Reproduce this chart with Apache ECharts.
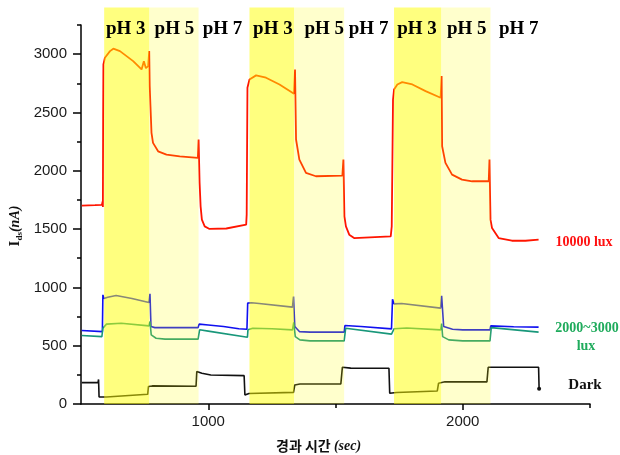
<!DOCTYPE html>
<html>
<head>
<meta charset="utf-8">
<script src="https://cdn.jsdelivr.net/npm/echarts@6.0.0/dist/echarts.min.js"></script>
<style>
  html, body { margin: 0; padding: 0; background: #fff; }
  #chart { width: 620px; height: 455px; }
</style>
</head>
<body>
<div id="chart"></div>
<script>
// 시간(sec), 전류(nA) 데이터
var lux10000 = [
  [503, 1701], [555, 1705], [582, 1708], [585, 1738], [586, 1690], [587, 2450],
  [588, 2912], [594, 2969], [614, 3026], [627, 3047], [653, 3026], [705, 2940],
  [738, 2869], [747, 2940], [755, 2880], [764, 2897], [768, 3026], [770, 2726],
  [773, 2554], [777, 2325], [783, 2239], [803, 2167], [836, 2139], [888, 2124],
  [959, 2110], [962, 2268], [966, 1898], [970, 1695], [975, 1581], [986, 1523],
  [1005, 1501], [1071, 1505], [1149, 1538], [1151, 1624], [1154, 2712], [1162, 2783],
  [1188, 2818], [1227, 2798], [1280, 2740], [1337, 2660], [1341, 2869], [1345, 2268],
  [1358, 2096], [1384, 1982], [1423, 1953], [1527, 1959], [1531, 2096], [1535, 1609],
  [1541, 1523], [1554, 1452], [1573, 1423], [1717, 1437], [1721, 1523], [1726, 2611],
  [1730, 2697], [1743, 2740], [1762, 2760], [1802, 2740], [1854, 2683], [1913, 2626],
  [1917, 2812], [1919, 2210], [1932, 2068], [1958, 1967], [1997, 1924], [2037, 1910],
  [2102, 1910], [2105, 2096], [2109, 1581], [2115, 1509], [2141, 1423], [2193, 1400],
  [2246, 1400], [2298, 1409]
];
var luxBlue = [
  [503, 630], [584, 621], [586, 936], [590, 905], [605, 915], [638, 930],
  [700, 905], [767, 870], [771, 945], [775, 664], [790, 655], [960, 655],
  [964, 685], [1000, 678], [1060, 665], [1120, 645], [1152, 641], [1155, 865],
  [1170, 868], [1200, 862], [1331, 831], [1335, 922], [1340, 664], [1358, 621],
  [1400, 616], [1534, 616], [1537, 673], [1600, 665], [1720, 644], [1724, 899],
  [1730, 859], [1760, 862], [1913, 822], [1917, 928], [1925, 664], [1960, 641],
  [2000, 636], [2107, 636], [2110, 670], [2200, 662], [2298, 659]
];
var luxTeal = [
  [503, 587], [582, 578], [586, 650], [600, 685], [658, 693], [767, 670],
  [771, 707], [776, 593], [795, 564], [830, 556], [960, 556], [966, 636],
  [1000, 625], [1154, 573], [1156, 636], [1175, 650], [1250, 645], [1331, 636],
  [1336, 700], [1342, 578], [1360, 550], [1400, 541], [1534, 541], [1540, 650],
  [1720, 599], [1724, 585], [1730, 645], [1780, 652], [1913, 636], [1917, 690],
  [1921, 578], [1945, 550], [2000, 541], [2107, 541], [2112, 655], [2298, 616]
];
var dark = [
  [503, 183], [567, 185], [569, 210], [571, 60], [600, 60], [762, 83],
  [765, 150], [780, 155], [952, 152], [955, 278], [975, 264], [1010, 249],
  [1141, 243], [1144, 77], [1160, 90], [1335, 100], [1340, 163], [1360, 172],
  [1521, 172], [1527, 315], [1560, 308], [1710, 306], [1713, 92], [1740, 98],
  [1900, 112], [1905, 178], [1930, 190], [2095, 190], [2100, 315], [2298, 315],
  [2300, 130]
];

// pH 구간
var ph3Bands = [[591, 768], [1162, 1337], [1730, 1915]];
var ph5Bands = [[768, 962], [1337, 1534], [1915, 2109]];
var phLabelX = [676, 867, 1056, 1254, 1456, 1630, 1820, 2016, 2220];
var phLabelText = ['pH 3', 'pH 5', 'pH 7', 'pH 3', 'pH 5', 'pH 7', 'pH 3', 'pH 5', 'pH 7'];

// 축 눈금
var xMajorTicks = [1000, 2000];
var xMinorTicks = [1500, 2500];
var yMajorTicks = [0, 500, 1000, 1500, 2000, 2500, 3000];
var yMinorTicks = [250, 750, 1250, 1750, 2250, 2750, 3250];

var bandTop = 3400;
var phLabelY = 3216;

var chart = echarts.init(document.getElementById('chart'));

var bandData = ph3Bands.map(function (b) { return [b[0], b[1], 3]; })
  .concat(ph5Bands.map(function (b) { return [b[0], b[1], 5]; }));

var tickFont = {
  fontFamily: 'Liberation Sans', fontSize: 15, color: '#1a1a1a',
  formatter: function (v) { return String(v); }
};
var axisBlack = { lineStyle: { color: '#000', width: 1.5 } };

chart.setOption({
  animation: false,
  grid: { left: 81, right: 30, top: 25, bottom: 51, containLabel: false },
  xAxis: [
    {
      type: 'value', min: 500, max: 2500,
      axisLine: axisBlack,
      axisTick: { customValues: xMajorTicks, length: 6, lineStyle: { color: '#000', width: 1.5 } },
      axisLabel: Object.assign({ customValues: xMajorTicks, margin: 10 }, tickFont),
      splitLine: { show: false }
    },
    {
      type: 'value', min: 500, max: 2500, position: 'bottom',
      axisLine: { show: false },
      axisTick: { customValues: xMinorTicks, length: 4, lineStyle: { color: '#000', width: 1.5 } },
      axisLabel: { show: false },
      splitLine: { show: false }
    }
  ],
  yAxis: [
    {
      type: 'value', min: 0, max: 3250,
      axisLine: { show: true, lineStyle: { color: '#000', width: 1.5 } },
      axisTick: { show: true, customValues: yMajorTicks, length: 8, lineStyle: { color: '#000', width: 1.5 } },
      axisLabel: Object.assign({ customValues: yMajorTicks, margin: 14 }, tickFont),
      splitLine: { show: false }
    },
    {
      type: 'value', min: 0, max: 3250, position: 'left',
      axisLine: { show: false },
      axisTick: { show: true, customValues: yMinorTicks, length: 4, lineStyle: { color: '#000', width: 1.5 } },
      axisLabel: { show: false },
      splitLine: { show: false }
    }
  ],
  series: [
    {
      name: '10000 lux', type: 'line', data: lux10000, showSymbol: false, z: 2,
      lineStyle: { color: '#ff1500', width: 1.8 }
    },
    {
      name: 'blue', type: 'line', data: luxBlue, showSymbol: false, z: 2,
      lineStyle: { color: '#1010f0', width: 1.6 }
    },
    {
      name: 'teal', type: 'line', data: luxTeal, showSymbol: false, z: 2,
      lineStyle: { color: '#18977a', width: 1.6 }
    },
    {
      name: 'Dark', type: 'line', data: dark, z: 2,
      showSymbol: true, showAllSymbol: true, symbol: 'circle',
      symbolSize: function (v, p) { return p.dataIndex === dark.length - 1 ? 4 : 0; },
      itemStyle: { color: '#111' },
      lineStyle: { color: '#111', width: 1.6 }
    },
    {
      // 반투명 pH 구간 (곡선 위에 덮음)
      type: 'custom', z: 5, clip: false, silent: true,
      data: bandData,
      renderItem: function (params, api) {
        var p0 = api.coord([api.value(0), bandTop]);
        var p1 = api.coord([api.value(1), 0]);
        return {
          type: 'rect',
          shape: { x: p0[0], y: p0[1], width: p1[0] - p0[0], height: p1[1] - p0[1] },
          style: { fill: api.value(2) === 3 ? 'rgba(255,255,0,0.5)' : 'rgba(255,255,0,0.2)' }
        };
      }
    },
    {
      type: 'custom', z: 6, clip: false, silent: true,
      data: phLabelX.map(function (x, i) { return [x, phLabelY, i]; }),
      renderItem: function (params, api) {
        var p = api.coord([api.value(0), api.value(1)]);
        return {
          type: 'text', x: p[0], y: p[1],
          style: {
            text: phLabelText[api.value(2)],
            font: 'bold 19px "Liberation Serif"',
            fill: '#000', align: 'center', verticalAlign: 'middle'
          }
        };
      }
    }
  ],
  graphic: [
    {
      type: 'text', x: 584, y: 242,
      style: { text: '10000 lux', font: 'bold 14px "Liberation Serif"', fill: '#ff1010', align: 'center', verticalAlign: 'middle' }
    },
    {
      type: 'text', x: 587, y: 328,
      style: { text: '2000~3000', font: 'bold 14px "Liberation Serif"', fill: '#1fab5c', align: 'center', verticalAlign: 'middle' }
    },
    {
      type: 'text', x: 586, y: 346,
      style: { text: 'lux', font: 'bold 14px "Liberation Serif"', fill: '#1fab5c', align: 'center', verticalAlign: 'middle' }
    },
    {
      type: 'text', x: 585, y: 385,
      style: { text: 'Dark', font: 'bold 15px "Liberation Serif"', fill: '#111', align: 'center', verticalAlign: 'middle' }
    },
    {
      type: 'text', x: 276, y: 446,
      style: {
        text: '{k|경과 시간 }{u|(sec)}',
        align: 'left', verticalAlign: 'middle',
        rich: {
          k: { fontFamily: 'Noto Sans CJK KR', fontWeight: 'bold', fontSize: 14, fill: '#111' },
          u: { fontFamily: 'Liberation Serif', fontWeight: 'bold', fontStyle: 'italic', fontSize: 14, fill: '#111' }
        }
      }
    },
    {
      type: 'text', x: 15, y: 226, rotation: Math.PI / 2,
      style: {
        text: '{i|I}{s|ds}{u|(nA)}',
        align: 'center', verticalAlign: 'middle',
        rich: {
          i: { fontFamily: 'Liberation Serif', fontWeight: 'bold', fontSize: 15, fill: '#111', lineHeight: 18 },
          s: { fontFamily: 'Liberation Serif', fontWeight: 'bold', fontSize: 9, fill: '#111', verticalAlign: 'bottom', lineHeight: 18 },
          u: { fontFamily: 'Liberation Serif', fontWeight: 'bold', fontStyle: 'italic', fontSize: 14, fill: '#111', lineHeight: 18 }
        }
      }
    }
  ]
});
</script>
</body>
</html>
